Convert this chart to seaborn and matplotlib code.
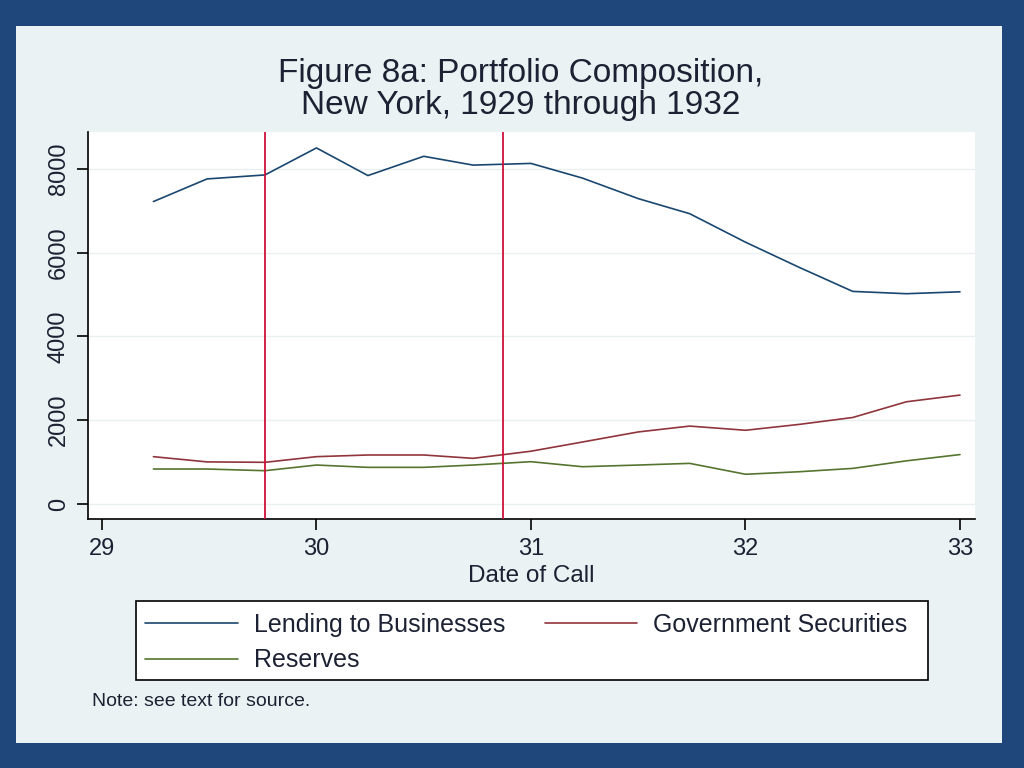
import pandas as pd
import seaborn as sns
import numpy as np
import matplotlib.pyplot as plt
from matplotlib.patches import Rectangle

# call dates (fraction of year, 29 = 1929)
call_dates = [29.24, 29.49, 29.76, 30.0, 30.24, 30.5, 30.73, 31.0,
              31.24, 31.5, 31.74, 32.0, 32.25, 32.5, 32.75, 33.0]
lending = [7220, 7760, 7855, 8500, 7840, 8300, 8090, 8130,
           7780, 7290, 6930, 6250, 5650, 5075, 5020, 5065]
gov_securities = [1130, 1005, 995, 1130, 1170, 1170, 1090, 1260,
                  1480, 1720, 1860, 1760, 1900, 2065, 2440, 2600]
reserves = [835, 835, 795, 930, 875, 875, 930, 1010,
            890, 930, 970, 710, 770, 850, 1030, 1180]
series_names = ['Lending to Businesses', 'Government Securities', 'Reserves']
vlines = [29.76, 30.87]
yticks = [0, 2000, 4000, 6000, 8000]
xticks = [29, 30, 31, 32, 33]

df = pd.DataFrame({
    'date': call_dates * 3,
    'value': lending + gov_securities + reserves,
    'series': np.repeat(series_names, len(call_dates)),
})

sns.set_theme(style='white')
plt.rcParams['font.family'] = ['Liberation Sans', 'DejaVu Sans']
txt = '#1c2233'

fig = plt.figure(figsize=(10.24, 7.68), dpi=100, facecolor='#1f477c')
# light inner panel + legend box
fig.patches.append(Rectangle((16/1024, 1-743/768), 986/1024, 717/768,
                             transform=fig.transFigure, facecolor='#eaf2f3',
                             edgecolor='none', zorder=-5))
fig.patches.append(Rectangle((136/1024, 1-680/768), 792/1024, 79/768,
                             transform=fig.transFigure, facecolor='white',
                             edgecolor='black', linewidth=1.2, zorder=-4))
ax = fig.add_axes([88/1024, 1-519/768, 887/1024, 387/768])
ax.set_zorder(2)
ax.set_facecolor('white')

palette = {'Lending to Businesses': '#1a476f',
           'Government Securities': '#90353b',
           'Reserves': '#55752f'}
sns.lineplot(data=df, x='date', y='value', hue='series', palette=palette,
             linewidth=1.2, ax=ax, legend=False)
for v in vlines:
    ax.axvline(v, color='#d0103a', linewidth=1.3, zorder=3)

ax.set_xlim(28.935, 33.07)
ax.set_ylim(-358, 8880)
ax.set_xticks(xticks)
ax.set_yticks(yticks)
ax.set_xticklabels([str(t) for t in xticks], fontsize=17)
ax.set_yticklabels([str(t) for t in yticks], fontsize=17, rotation=90, va='center')
ax.tick_params(axis='both', direction='out', length=8, width=1.2, color='black',
               bottom=True, left=True, labelcolor=txt)
ax.tick_params(axis='x', pad=6)
ax.tick_params(axis='y', pad=5)
ax.yaxis.grid(True, color='#eaf0f1', linewidth=1.0)
ax.set_axisbelow(True)
for s in ['top', 'right']:
    ax.spines[s].set_visible(False)
for s in ['left', 'bottom']:
    ax.spines[s].set_color('black')
    ax.spines[s].set_linewidth(1.2)
ax.set_xlabel('Date of Call', fontsize=17.5, labelpad=3, color=txt)
ax.set_ylabel('')

fig.text(521/1024, 1-89.5/768, 'Figure 8a: Portfolio Composition,\nNew York, 1929 through 1932',
         ha='center', va='center', fontsize=24, color=txt, linespacing=1.08)

# row-major order in the picture: Lending, Gov / Reserves
order = ['Lending to Businesses', 'Reserves', 'Government Securities']
handles = [plt.Line2D([], [], color=palette[n], linewidth=1.2) for n in order]
leg = fig.legend(handles, order, loc='upper left', ncol=2,
                 bbox_to_anchor=(145/1024, 1-613/768),
                 borderaxespad=0, borderpad=0, fontsize=18, handlelength=3.7,
                 frameon=False, labelspacing=0.45, handletextpad=0.64,
                 columnspacing=1.6)
for t in leg.get_texts():
    t.set_color(txt)

fig.text(92/1024, 1-702/768, 'Note: see text for source.', ha='left', va='center',
         fontsize=14, color=txt)

fig.savefig('out.png', dpi=100, facecolor=fig.get_facecolor())
